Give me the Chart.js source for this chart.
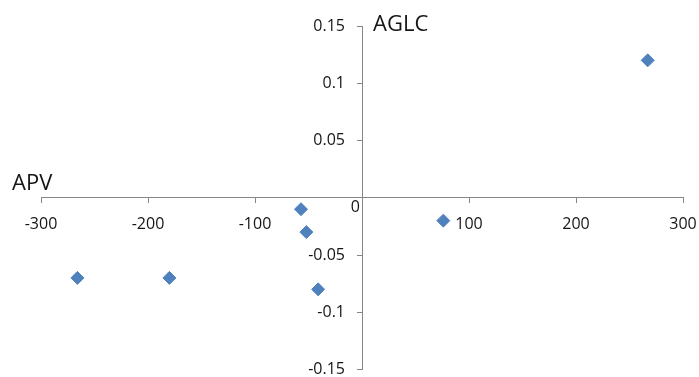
<!DOCTYPE html>
<html>
<head>
<meta charset="utf-8">
<script src="https://cdn.jsdelivr.net/npm/chart.js@4.4.0/dist/chart.umd.min.js"></script>
<style>
  html, body { margin: 0; padding: 0; background: #fff; }
  #wrap { width: 699px; height: 377px; }
</style>
</head>
<body>
<div id="wrap"><canvas id="chart"></canvas></div>
<script>
const apv  = [267, 76, -57, -52, -41, -180, -266];
const aglc = [0.12, -0.02, -0.01, -0.03, -0.08, -0.07, -0.07];
const xTicks = [-300, -200, -100, 0, 100, 200, 300];
const yTicks = [-0.15, -0.1, -0.05, 0, 0.05, 0.1, 0.15];

const points = apv.map((x, i) => ({x: x, y: aglc[i]}));

const FONT = "'Open Sans', 'DejaVu Sans', sans-serif";
const AXIS = '#868686';
const TEXT = '#151515';

// axes sit in the middle of the plot, so they must not eat layout space
function noSpace(scale) {
    if (scale.isHorizontal()) scale.height = 0; else scale.width = 0;
    scale.paddingLeft = scale.paddingRight = 0;
    scale.paddingTop = scale.paddingBottom = 0;
}

const labelsPlugin = {
    id: 'axisText',
    afterDraw(chart) {
        const c = chart.ctx;
        const xs = chart.scales.x, ys = chart.scales.y;
        const x0 = xs.getPixelForValue(0), y0 = ys.getPixelForValue(0);
        c.save();
        c.fillStyle = TEXT;
        c.font = '16px ' + FONT;
        // y tick labels, right aligned a bit left of the axis
        c.textAlign = 'right';
        c.textBaseline = 'middle';
        yTicks.forEach(v => {
            if (v !== 0) c.fillText(String(v), x0 - 17, ys.getPixelForValue(v));
        });
        c.textBaseline = 'top';
        c.fillText('0', x0 - 2, y0 + 2);
        c.font = '22px ' + FONT;
        c.textAlign = 'left';
        c.textBaseline = 'alphabetic';
        c.fillText('APV', 12, y0 - 8);
        c.fillText('AGLC', x0 + 11, 31);
        c.restore();
    }
};

new Chart(document.getElementById('chart'), {
    type: 'scatter',
    data: {
        datasets: [{
            data: points,
            pointStyle: 'rectRot',
            pointRadius: 6.5,
            pointHoverRadius: 6.5,
            backgroundColor: '#4F81BD',
            borderColor: '#4F81BD',
            borderWidth: 1
        }]
    },
    options: {
        responsive: true,
        maintainAspectRatio: false,
        animation: false,
        layout: { padding: { left: 41, right: 16, top: 26, bottom: 7 } },
        plugins: { legend: { display: false }, tooltip: { enabled: false } },
        scales: {
            x: {
                type: 'linear',
                position: { y: 0 },
                min: xTicks[0],
                max: xTicks[xTicks.length - 1],
                afterBuildTicks: s => { s.ticks = xTicks.map(v => ({value: v})); },
                afterFit: noSpace,
                grid: { drawOnChartArea: false, drawTicks: true, tickLength: 5, color: AXIS },
                border: { display: true, color: AXIS, width: 1 },
                ticks: {
                    padding: 12,
                    color: TEXT,
                    font: { family: FONT, size: 16 },
                    maxRotation: 0,
                    autoSkip: false,
                    callback: v => v === 0 ? '' : String(v)
                }
            },
            y: {
                type: 'linear',
                position: { x: 0 },
                min: yTicks[0],
                max: yTicks[yTicks.length - 1],
                afterBuildTicks: s => { s.ticks = yTicks.map(v => ({value: v})); },
                afterFit: noSpace,
                grid: { drawOnChartArea: false, drawTicks: true, tickLength: 5, color: AXIS },
                border: { display: true, color: AXIS, width: 1 },
                ticks: { display: false }
            }
        }
    },
    plugins: [labelsPlugin]
});
</script>
</body>
</html>
